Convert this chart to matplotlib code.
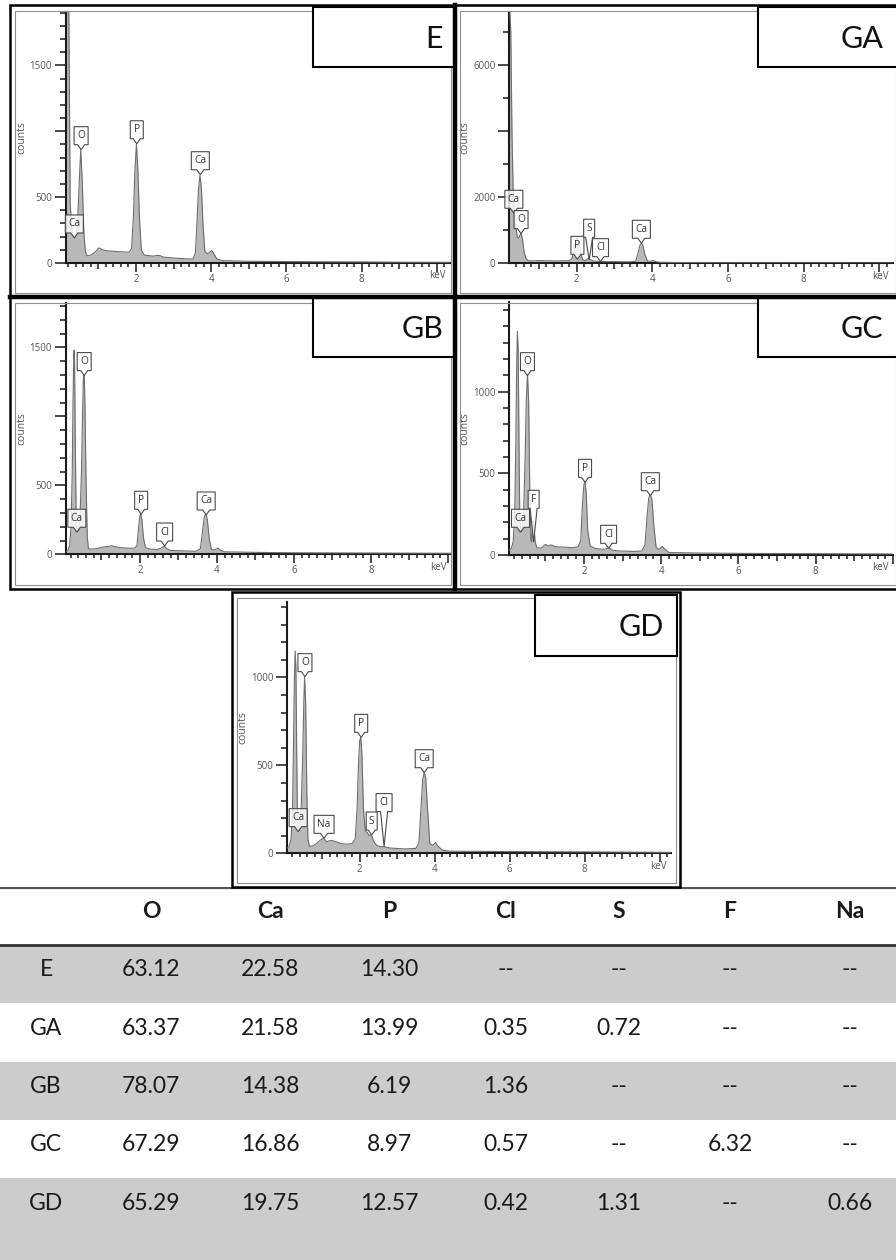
import matplotlib
matplotlib.use("Agg")
import matplotlib.pyplot as plt
import matplotlib.transforms as mtransforms
from matplotlib.patches import Rectangle, Polygon
from matplotlib.ticker import MultipleLocator, FixedLocator, FixedFormatter, FuncFormatter

plt.rcParams['font.family'] = ['Open Sans', 'DejaVu Sans']

W, H = 896, 1260

# spectra: (keV, counts)
e_spec = [(0.13, 2000), (0.21, 2000), (0.25, 450), (0.29, 260), (0.33, 210), (0.37, 195), (0.41, 220),
          (0.45, 330), (0.49, 620), (0.53, 860), (0.57, 620), (0.61, 250), (0.65, 90), (0.70, 55),
          (0.80, 60), (0.92, 85), (1.02, 115), (1.10, 100), (1.25, 92), (1.45, 88), (1.65, 84),
          (1.82, 82), (1.88, 110), (1.93, 350), (1.97, 700), (2.01, 900), (2.05, 700), (2.09, 350),
          (2.14, 100), (2.22, 60), (2.45, 52), (2.58, 58), (2.64, 56), (2.72, 45), (3.00, 38),
          (3.30, 32), (3.52, 30), (3.58, 80), (3.62, 300), (3.66, 560), (3.70, 665), (3.74, 560),
          (3.78, 300), (3.83, 90), (3.89, 70), (3.95, 80), (4.01, 95), (4.07, 70), (4.15, 30),
          (4.30, 18), (5.0, 13), (6.0, 11), (7.0, 9), (8.0, 8), (9.0, 6), (10.4, 5)]

ga_spec = [(0.22, 8000), (0.26, 7000), (0.29, 4000), (0.32, 2300), (0.35, 1600), (0.39, 1150),
           (0.43, 800), (0.47, 760), (0.50, 850), (0.53, 920), (0.57, 720), (0.61, 350), (0.66, 150),
           (0.72, 80), (0.85, 70), (1.00, 85), (1.20, 75), (1.50, 70), (1.80, 80), (1.88, 150),
           (1.93, 420), (1.97, 700), (2.01, 770), (2.05, 680), (2.10, 350), (2.16, 110), (2.22, 80),
           (2.27, 120), (2.31, 150), (2.36, 110), (2.45, 70), (2.58, 55), (2.64, 62), (2.72, 50),
           (3.00, 50), (3.40, 45), (3.56, 60), (3.62, 300), (3.67, 540), (3.71, 610), (3.75, 540),
           (3.80, 280), (3.87, 70), (3.95, 60), (4.02, 90), (4.09, 50), (4.20, 30), (5.0, 20),
           (6.0, 15), (8.0, 12), (10.4, 10)]

gb_spec = [(0.07, 20), (0.12, 25), (0.17, 60), (0.21, 200), (0.24, 600), (0.26, 1100), (0.28, 1450),
           (0.29, 1480), (0.30, 1400), (0.32, 800), (0.34, 300), (0.37, 165), (0.40, 170), (0.44, 260),
           (0.48, 600), (0.51, 1050), (0.53, 1280), (0.55, 1300), (0.57, 1100), (0.60, 500),
           (0.63, 130), (0.66, 40), (0.75, 38), (0.90, 42), (1.00, 50), (1.10, 55), (1.20, 58),
           (1.26, 62), (1.35, 55), (1.50, 48), (1.70, 44), (1.85, 45), (1.92, 60), (1.96, 180),
           (1.99, 270), (2.02, 295), (2.05, 250), (2.09, 120), (2.14, 50), (2.25, 38), (2.45, 35),
           (2.57, 48), (2.63, 60), (2.70, 40), (2.80, 28), (3.10, 25), (3.45, 22), (3.57, 40),
           (3.63, 180), (3.67, 270), (3.71, 295), (3.75, 250), (3.80, 110), (3.86, 35), (3.94, 30),
           (4.02, 45), (4.09, 30), (4.20, 18), (5.0, 14), (6.0, 11), (8.0, 9), (10.1, 7)]

gc_spec = [(0.07, 30), (0.12, 40), (0.17, 80), (0.21, 250), (0.24, 700), (0.26, 1150), (0.28, 1370),
           (0.30, 1250), (0.32, 700), (0.34, 250), (0.37, 145), (0.40, 150), (0.44, 250), (0.48, 600),
           (0.51, 950), (0.54, 1110), (0.57, 950), (0.60, 400), (0.63, 90), (0.65, 80), (0.67, 170),
           (0.69, 210), (0.71, 160), (0.74, 80), (0.78, 45), (0.90, 42), (1.00, 65), (1.08, 55),
           (1.15, 62), (1.22, 55), (1.30, 50), (1.50, 48), (1.70, 45), (1.85, 50), (1.92, 90),
           (1.96, 300), (2.00, 430), (2.03, 450), (2.06, 380), (2.10, 150), (2.16, 55), (2.30, 40),
           (2.50, 35), (2.60, 38), (2.66, 42), (2.73, 30), (2.90, 25), (3.30, 22), (3.50, 25),
           (3.58, 60), (3.64, 250), (3.68, 350), (3.72, 370), (3.76, 340), (3.81, 180), (3.87, 45),
           (3.95, 35), (4.03, 52), (4.10, 35), (4.20, 15), (5.0, 12), (6.0, 10), (8.0, 8), (10.1, 6)]

gd_spec = [(0.07, 30), (0.12, 40), (0.17, 80), (0.21, 250), (0.24, 700), (0.26, 1000), (0.28, 1150),
           (0.30, 1050), (0.32, 600), (0.34, 200), (0.37, 130), (0.40, 140), (0.44, 250), (0.48, 550),
           (0.51, 850), (0.53, 1005), (0.56, 850), (0.59, 350), (0.62, 80), (0.66, 40), (0.75, 42),
           (0.85, 55), (0.95, 75), (1.04, 85), (1.12, 65), (1.20, 72), (1.28, 72), (1.38, 65),
           (1.50, 55), (1.65, 52), (1.80, 55), (1.88, 80), (1.93, 250), (1.97, 520), (2.00, 640),
           (2.03, 660), (2.06, 560), (2.10, 250), (2.15, 130), (2.21, 115), (2.26, 100), (2.31, 105),
           (2.37, 70), (2.45, 45), (2.55, 38), (2.65, 38), (2.80, 30), (3.20, 25), (3.50, 28),
           (3.58, 60), (3.64, 280), (3.68, 420), (3.72, 460), (3.76, 430), (3.81, 250), (3.87, 55),
           (3.95, 45), (4.02, 62), (4.09, 40), (4.20, 18), (4.40, 12), (6.0, 10), (8.0, 8), (10.4, 5)]

# peak labels: element, keV, counts at the pointer tip, counts at the box bottom (None = short pointer)
e_labels = [('Ca', 0.36, 190, None), ('O', 0.54, 860, None), ('P', 2.02, 905, None), ('Ca', 3.71, 670, None)]
ga_labels = [('Ca', 0.34, 1515, None), ('O', 0.53, 900, None), ('P', 2.02, 120, None),
             ('S', 2.33, 100, 790), ('Cl', 2.63, 50, None), ('Ca', 3.71, 606, None)]
gb_labels = [('Ca', 0.36, 160, None), ('O', 0.55, 1296, None), ('P', 2.03, 290, None),
             ('Cl', 2.64, 60, None), ('Ca', 3.72, 285, None)]
gc_labels = [('Ca', 0.36, 139, None), ('O', 0.54, 1098, None), ('F', 0.70, 80, 286),
             ('P', 2.03, 445, None), ('Cl', 2.64, 41, None), ('Ca', 3.72, 363, None)]
gd_labels = [('Ca', 0.36, 123, None), ('O', 0.54, 1004, None), ('Na', 1.05, 85, None),
             ('P', 2.04, 659, None), ('S', 2.32, 104, None), ('Cl', 2.65, 38, 237), ('Ca', 3.72, 458, None)]

# composition table (wt %), None = not detected
samples = ['E', 'GA', 'GB', 'GC', 'GD']
elements = ['O', 'Ca', 'P', 'Cl', 'S', 'F', 'Na']
wt_O = [63.12, 63.37, 78.07, 67.29, 65.29]
wt_Ca = [22.58, 21.58, 14.38, 16.86, 19.75]
wt_P = [14.30, 13.99, 6.19, 8.97, 12.57]
wt_Cl = [None, 0.35, 1.36, 0.57, 0.42]
wt_S = [None, 0.72, None, None, 1.31]
wt_F = [None, None, None, 6.32, None]
wt_Na = [None, None, None, None, 0.66]

BOX_W = {'O': 14, 'P': 13, 'S': 11, 'F': 11, 'Ca': 18, 'Cl': 16, 'Na': 20}

fig = plt.figure(figsize=(W / 100, H / 100), dpi=100)
fig.patch.set_facecolor('white')


def px_rect(x0, y0, x1, y1):
    return [x0 / W, 1 - y1 / H, (x1 - x0) / W, (y1 - y0) / H]


def fig_box(x0, y0, x1, y1, **kw):
    r = Rectangle((x0 / W, 1 - y1 / H), (x1 - x0) / W, (y1 - y0) / H,
                  transform=fig.transFigure, **kw)
    fig.add_artist(r)


def fig_line(xs, ys, **kw):
    fig.add_artist(plt.Line2D([x / W for x in xs], [1 - y / H for y in ys],
                              transform=fig.transFigure, **kw))


def peak_label(ax, name, kev, tip, box_base, ppc):
    w = BOX_W[name]
    h = 18
    p = 5 if box_base is None else (box_base - tip) * ppc
    tr = (mtransforms.Affine2D().scale(1 / fig.dpi) + fig.dpi_scale_trans
          + mtransforms.ScaledTranslation(kev, tip, ax.transData))
    verts = [(-w / 2, p), (-3.5, p), (0, 0), (3.5, p), (w / 2, p), (w / 2, p + h), (-w / 2, p + h)]
    ax.add_patch(Polygon(verts, closed=True, transform=tr, facecolor=(1, 1, 1, 0.8),
                         edgecolor='#4a4a4a', lw=0.8, zorder=5, clip_on=False))
    ax.text(0, p + h / 2, name, transform=tr, ha='center', va='center', fontsize=7.3,
            color='#333333', zorder=6)


panels = [
    dict(name='E', spec=e_spec, labels=e_labels, ax=(65.7, 12, 450, 263), xlim=(0.13, 10.35),
         ytop=1905, yt=[0, 500, 1000, 1500], ytl=['0', '500', '', '1500'], ymin=100,
         frame=(10, 5, 455, 297), tag=(313, 7, 456, 67)),
    dict(name='GA', spec=ga_spec, labels=ga_labels, ax=(509.3, 11.7, 893, 263.3), xlim=(0.22, 10.36),
         ytop=7620, yt=[0, 2000, 4000, 6000], ytl=['0', '2000', '', '6000'], ymin=1000,
         frame=(455, 5, 900, 297), tag=(758, 7, 900, 67)),
    dict(name='GB', spec=gb_spec, labels=gb_labels, ax=(65.7, 303.3, 451, 554.3), xlim=(0.07, 10.08),
         ytop=1820, yt=[0, 500, 1000, 1500], ytl=['0', '500', '', '1500'], ymin=100,
         frame=(10, 297, 455, 589), tag=(313, 298, 456, 357)),
    dict(name='GC', spec=gc_spec, labels=gc_labels, ax=(509.3, 301.7, 893, 555), xlim=(0.07, 10.0),
         ytop=1551, yt=[0, 500, 1000], ytl=['0', '500', '1000'], ymin=100,
         frame=(455, 297, 900, 589), tag=(758, 298, 900, 357)),
    dict(name='GD', spec=gd_spec, labels=gd_labels, ax=(287.3, 601.7, 671, 853.3), xlim=(0.07, 10.3),
         ytop=1430, yt=[0, 500, 1000], ytl=['0', '500', '1000'], ymin=100,
         frame=(232, 592, 680, 887), tag=(535, 595, 677, 656)),
]

for p in panels:
    x0, y0, x1, y1 = p['ax']
    ax = fig.add_axes(px_rect(x0, y0, x1, y1))
    kev = [k for k, c in p['spec']]
    cts = [c for k, c in p['spec']]
    ax.fill_between(kev, cts, 0, color='#b8b8b8', lw=0, zorder=2)
    ax.plot(kev, cts, color='#6e6e6e', lw=0.8, zorder=3)
    ax.set_xlim(*p['xlim'])
    ax.set_ylim(0, p['ytop'])
    ax.autoscale(False)

    for s in ['top', 'right']:
        ax.spines[s].set_visible(False)
    for s in ['left', 'bottom']:
        ax.spines[s].set_linewidth(1.5)
        ax.spines[s].set_color('#1a1a1a')

    ax.yaxis.set_major_locator(FixedLocator(p['yt']))
    ax.yaxis.set_major_formatter(FixedFormatter(p['ytl']))
    ax.yaxis.set_minor_locator(MultipleLocator(p['ymin']))
    ax.xaxis.set_major_locator(MultipleLocator(1))
    ax.xaxis.set_minor_locator(MultipleLocator(0.2))
    ax.xaxis.set_major_formatter(FuncFormatter(
        lambda v, pos: '%d' % round(v) if round(v) in (2, 4, 6, 8) else ''))

    ax.tick_params(axis='both', which='both', direction='out', color='#1a1a1a', width=1.1,
                   labelcolor='#555555', labelsize=7)
    ax.tick_params(axis='y', which='major', length=7.7, pad=2.2)
    ax.tick_params(axis='y', which='minor', length=4.1)
    ax.tick_params(axis='x', which='major', length=4.1, pad=3.5)
    ax.tick_params(axis='x', which='minor', length=2.7)
    for loc, t in zip(ax.xaxis.get_majorticklocs(), ax.xaxis.get_major_ticks()):
        if round(loc) % 2 == 0:
            t.tick1line.set_markersize(6.5)

    ax.annotate('keV', xy=(1, 0), xycoords='axes fraction', xytext=(-13, -13),
                textcoords='offset pixels', ha='center', va='center', fontsize=7, color='#555555')
    ax.set_ylabel('counts', fontsize=7.5, color='#555555')
    ax.yaxis.set_label_coords(-38.5 / (x1 - x0), 0.5)

    ppc = (y1 - y0) / p['ytop']
    for name, k, tip, base in p['labels']:
        if base is not None:
            pass
        peak_label(ax, name, k, tip, base, ppc)

    # double frame round the panel
    fx0, fy0, fx1, fy1 = p['frame']
    fig_box(fx0, fy0, fx1, fy1, fill=False, edgecolor='black', lw=1.8, zorder=3)
    fig_box(fx0 + 5, fy0 + 6, fx1 - 4, fy1 - 4, fill=False, edgecolor='#8f8f8f', lw=0.8, zorder=3)

    # sample tag box
    tx0, ty0, tx1, ty1 = p['tag']
    fig_box(tx0, ty0, tx1, ty1, facecolor='white', edgecolor='black', lw=1.5, zorder=4)
    fig.text((tx1 - 13) / W if tx1 < 896 else (tx1 - 17) / W, 1 - ((ty0 + ty1) / 2 + 2) / H, p['name'],
             ha='right', va='center', fontsize=22, family=['Lato', 'DejaVu Sans'], color='#111111', zorder=5)

# thick dividers between the four top panels
fig_line([455, 455], [5, 589], color='black', lw=3.2, zorder=4)
fig_line([10, 900], [297, 297], color='black', lw=3.2, zorder=4)

# ---- table ----
tab = fig.add_axes(px_rect(0, 887, W, H))
tab.set_xlim(0, W)
tab.set_ylim(H, 887)
tab.axis('off')

col_x = [46, 151, 270, 389, 506, 619, 730, 850]
row_h = 58.3
first_row = 945
cols = [wt_O, wt_Ca, wt_P, wt_Cl, wt_S, wt_F, wt_Na]

for i, s in enumerate(samples):
    top = first_row + i * row_h
    if i % 2 == 0:
        bottom = H if i == len(samples) - 1 else top + row_h
        tab.axhspan(top, bottom, color='#cccccc', lw=0, zorder=0)
    tab.text(col_x[0], top + 25, s, ha='center', va='center', fontsize=16.5,
             family=['Lato', 'DejaVu Sans'], color='#1a1a1a')
    for j, vals in enumerate(cols):
        v = vals[i]
        txt = '--' if v is None else '%.2f' % v
        tab.text(col_x[j + 1], top + 25, txt, ha='center', va='center', fontsize=16.5,
                 family=['Lato', 'DejaVu Sans'], color='#1a1a1a')

for j, el in enumerate(elements):
    tab.text(col_x[j + 1], 912, el, ha='center', va='center', fontsize=16.5, fontweight='bold',
             family=['Lato', 'DejaVu Sans'], color='#1a1a1a')

tab.axhline(888, color='#555555', lw=1.6, zorder=2)
tab.axhline(945, color='#333333', lw=2.0, zorder=2)

fig.savefig('out.png', dpi=100)
